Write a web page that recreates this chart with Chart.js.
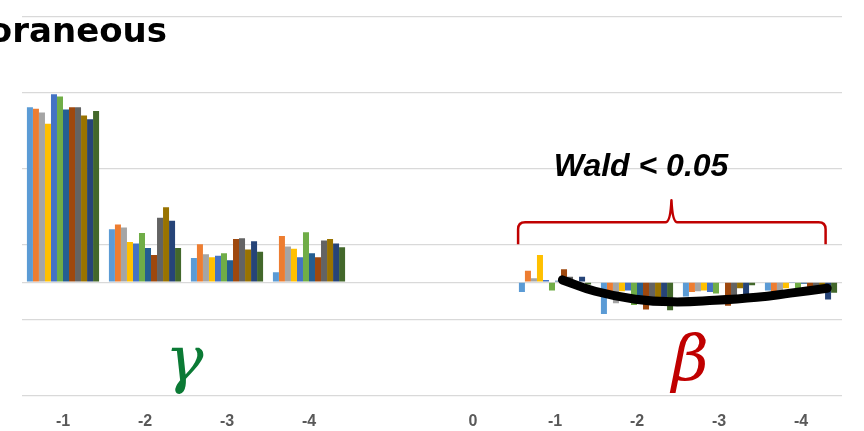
<!DOCTYPE html>
<html>
<head>
<meta charset="utf-8">
<script src="https://cdn.jsdelivr.net/npm/chart.js@4.4.1/dist/chart.umd.min.js"></script>
<style>
  html, body { margin: 0; padding: 0; background: #ffffff; overflow: hidden; }
</style>
</head>
<body>
<canvas id="chart" width="864" height="431"></canvas>
<script>
// categories: gamma lags -1..-4, an empty slot, then beta lags 0..-4
const categories = ["-1", "-2", "-3", "-4", "", "0", "-1", "-2", "-3", "-4"];

// 12 series, values (null = no bar)
const s1  = [0.231, 0.070, 0.032, 0.013, null, null, -0.013, -0.042, -0.019, -0.011];
const s2  = [0.229, 0.076, 0.050, 0.061, null, null,  0.015, -0.013, -0.013, -0.014];
const s3  = [0.224, 0.072, 0.037, 0.047, null, null,  0.005, -0.028, -0.012, -0.013];
const s4  = [0.209, 0.053, 0.033, 0.044, null, null,  0.036, -0.012, -0.011, -0.008];
const s5  = [0.248, 0.051, 0.035, 0.033, null, null,  0.003, -0.011, -0.013, -0.001];
const s6  = [0.245, 0.065, 0.038, 0.066, null, null, -0.011, -0.030, -0.015, -0.010];
const s7  = [0.228, 0.045, 0.029, 0.038, null, null,  0.002, -0.020,  0.000, -0.002];
const s8  = [0.231, 0.036, 0.057, 0.033, null, null,  0.017, -0.036, -0.031, -0.010];
const s9  = [0.231, 0.085, 0.058, 0.055, null, null,  0.007, -0.025, -0.022, -0.010];
const s10 = [0.220, 0.099, 0.043, 0.057, null, null, -0.003, -0.025, -0.008, -0.008];
const s11 = [0.215, 0.081, 0.054, 0.051, null, null,  0.007, -0.025, -0.016, -0.023];
const s12 = [0.226, 0.045, 0.040, 0.046, null, null, -0.003, -0.037, -0.004, -0.014];
const seriesValues = [s1, s2, s3, s4, s5, s6, s7, s8, s9, s10, s11, s12];
const seriesColors = ["#5B9BD5", "#ED7D31", "#A5A5A5", "#FFC000", "#4472C4", "#70AD47",
                      "#255E91", "#9E480E", "#636363", "#997300", "#264478", "#43682B"];

// hand-drawn trend curve over the beta bars (x = category index, fractional)
const curveX = [6.09, 6.49, 6.98, 7.43, 7.95, 8.46, 8.87, 9.32];
const curveY = [0.003, -0.012, -0.0225, -0.026, -0.024, -0.020, -0.0145, -0.008];

// gridline values (Excel style: axis min -0.15, step 0.1, zero line)
const yTicks = [-0.15, -0.05, 0, 0.05, 0.15, 0.25, 0.35];

const datasets = seriesValues.map((vals, i) => ({
    type: "bar",
    label: "s" + (i + 1),
    data: vals,
    backgroundColor: seriesColors[i],
    borderWidth: 0,
    barPercentage: 1,
    categoryPercentage: 0.88
}));

// curve sits on the same category axis; parsing off so x can be fractional
datasets.push({
    type: "line",
    label: "trend",
    parsing: false,
    data: curveX.map((x, i) => ({ x: x, y: curveY[i] })),
    borderColor: "#000000",
    borderWidth: 9,
    borderCapStyle: "round",
    pointRadius: 0,
    tension: 0.45,
    fill: false,
    order: -1
});

// annotations: title, brace, Wald text, greek letters
const annotations = {
    id: "annotations",
    afterDraw(chart) {
        const ctx = chart.ctx;
        const x = chart.scales.x;
        const y = chart.scales.y;
        ctx.save();

        // title (cut off at the left like the reference)
        ctx.fillStyle = "#000000";
        ctx.font = "bold 34px 'DejaVu Sans'";
        ctx.textAlign = "right";
        ctx.textBaseline = "alphabetic";
        ctx.fillText("Contemporaneous", 167, 42);

        // red brace
        const bx0 = x.getPixelForValue(5.55);
        const bx1 = x.getPixelForValue(9.3);
        const bmid = x.getPixelForValue(7.42);
        const yTip = y.getPixelForValue(0.05);
        const yBar = y.getPixelForValue(0.079);
        const yPeak = y.getPixelForValue(0.108);
        ctx.strokeStyle = "#C00000";
        ctx.lineWidth = 2.5;
        ctx.lineJoin = "round";
        ctx.beginPath();
        ctx.moveTo(bx0, yTip);
        ctx.lineTo(bx0, yBar + 7);
        ctx.quadraticCurveTo(bx0, yBar, bx0 + 7, yBar);
        ctx.lineTo(bmid - 6, yBar);
        ctx.quadraticCurveTo(bmid - 1, yBar, bmid, yPeak);
        ctx.quadraticCurveTo(bmid + 1, yBar, bmid + 6, yBar);
        ctx.lineTo(bx1 - 7, yBar);
        ctx.quadraticCurveTo(bx1, yBar, bx1, yBar + 7);
        ctx.lineTo(bx1, yTip);
        ctx.stroke();

        // Wald text
        ctx.fillStyle = "#000000";
        ctx.font = "italic bold 32px 'Liberation Sans'";
        ctx.textAlign = "center";
        ctx.fillText("Wald < 0.05", x.getPixelForValue(7.05), 176);

        // greek letters
        ctx.font = "italic 64px 'DejaVu Serif'";
        ctx.fillStyle = "#0B7A35";
        ctx.fillText("\u03B3", x.getPixelForValue(1.48), 381);
        ctx.fillStyle = "#C00000";
        ctx.fillText("\u03B2", x.getPixelForValue(7.65), 380);

        ctx.restore();
    }
};

const chart = new Chart(document.getElementById("chart"), {
    type: "bar",
    data: { labels: categories, datasets: datasets },
    options: {
        responsive: false,
        animation: false,
        devicePixelRatio: 1,
        layout: { padding: { left: 22, right: 22, top: 17, bottom: 0 } },
        plugins: { legend: { display: false }, tooltip: { enabled: false } },
        scales: {
            x: {
                type: "category",
                grid: { display: false, tickLength: 16 },
                border: { display: false },
                ticks: {
                    color: "#595959",
                    font: { family: "'Liberation Sans'", size: 16, weight: "bold" },
                    padding: 0,
                    maxRotation: 0,
                    autoSkip: false
                }
            },
            y: {
                min: -0.15,
                max: 0.35,
                afterBuildTicks: (scale) => {
                    scale.ticks = yTicks.map((v) => ({ value: v }));
                },
                ticks: { display: false },
                grid: { color: "#D9D9D9", lineWidth: 1.3, drawTicks: false },
                border: { display: false }
            }
        }
    },
    plugins: [annotations]
});
</script>
</body>
</html>
